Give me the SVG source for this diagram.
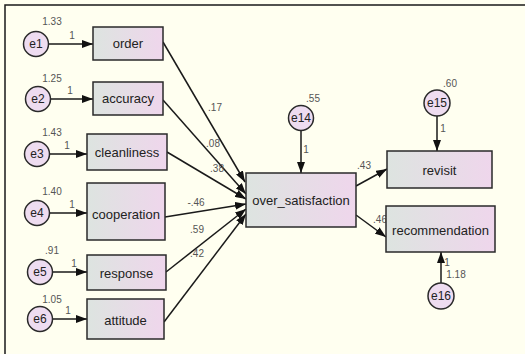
<svg xmlns="http://www.w3.org/2000/svg" width="525" height="354" viewBox="0 0 525 354">
<style>
.box{stroke:#2a2a2a;stroke-width:1.5;fill:url(#g)}
.err{stroke:#2a2a2a;stroke-width:1.5;fill:#eedcf0}
.ln{stroke:#1a1a1a;stroke-width:1.5;fill:none;marker-end:url(#ah)}
.t{font-family:"Liberation Sans",Arial,sans-serif;font-size:13px;fill:#222;text-anchor:middle;dominant-baseline:central}
.c{font-family:"Liberation Sans",Arial,sans-serif;font-size:12px;fill:#222;text-anchor:middle;dominant-baseline:central}
.n{font-family:"Liberation Sans",Arial,sans-serif;font-size:10px;fill:#555;text-anchor:middle}
</style>
<defs>
<linearGradient id="g" x1="0" y1="0" x2="1" y2="0">
<stop offset="0" stop-color="#dde4e0"/>
<stop offset="1" stop-color="#efd6ec"/>
</linearGradient>
<marker id="ah" viewBox="0 0 11 8" refX="11" refY="4" markerWidth="11" markerHeight="8" markerUnits="userSpaceOnUse" orient="auto">
<path d="M0,0 L11,4 L0,8 Z" fill="#111"/>
</marker>
</defs>
<rect x="0" y="0" width="525" height="354" fill="#fffff0"/>
<path d="M5,354 V5 H525" stroke="#1a1a1a" stroke-width="1.5" fill="none"/>
<g id="connectors">
<line class="ln" x1="49" y1="44" x2="93" y2="44"/>
<line class="ln" x1="51" y1="99" x2="93" y2="99"/>
<line class="ln" x1="50" y1="154" x2="87" y2="154"/>
<line class="ln" x1="50" y1="213" x2="87" y2="213"/>
<line class="ln" x1="53" y1="272" x2="87" y2="272"/>
<line class="ln" x1="53" y1="319" x2="87" y2="319"/>
<line class="ln" x1="163" y1="42" x2="245" y2="182"/>
<line class="ln" x1="163" y1="100" x2="246" y2="194"/>
<line class="ln" x1="167" y1="152" x2="246" y2="199"/>
<line class="ln" x1="165" y1="217" x2="246" y2="204"/>
<line class="ln" x1="166" y1="272" x2="246" y2="209"/>
<line class="ln" x1="164" y1="322" x2="246" y2="214"/>
<line class="ln" x1="301" y1="131" x2="301" y2="173"/>
<line class="ln" x1="437" y1="116" x2="437" y2="151"/>
<line class="ln" x1="441" y1="283" x2="441" y2="252"/>
<line class="ln" x1="356" y1="186" x2="387" y2="169"/>
<line class="ln" x1="356" y1="215" x2="386" y2="237"/>
</g>
<g id="labels">
<text class="n" x="72" y="39">1</text><text class="n" x="52" y="25">1.33</text>
<text class="n" x="70" y="94">1</text><text class="n" x="52" y="82">1.25</text>
<text class="n" x="67" y="149">1</text><text class="n" x="52" y="136">1.43</text>
<text class="n" x="72" y="208">1</text><text class="n" x="52" y="195">1.40</text>
<text class="n" x="74" y="267">1</text><text class="n" x="52" y="254">.91</text>
<text class="n" x="68" y="314">1</text><text class="n" x="52" y="303">1.05</text>
<text class="n" x="215" y="111">.17</text>
<text class="n" x="213" y="147">.08</text>
<text class="n" x="217" y="172">.38</text>
<text class="n" x="196" y="206">-.46</text>
<text class="n" x="197" y="233">.59</text>
<text class="n" x="197" y="257">.42</text>
<text class="n" x="313" y="102">.55</text>
<text class="n" x="306" y="153">1</text>
<text class="n" x="450" y="87">.60</text>
<text class="n" x="443" y="132">1</text>
<text class="n" x="447" y="266">1</text>
<text class="n" x="456" y="278">1.18</text>
<text class="n" x="364" y="169">.43</text>
<text class="n" x="380" y="223">.46</text>
</g>
<g id="e1"><circle class="err" cx="36" cy="44" r="12.5"/><text class="c" x="36" y="44">e1</text></g>
<g id="e2"><circle class="err" cx="38" cy="99" r="12.5"/><text class="c" x="38" y="99">e2</text></g>
<g id="e3"><circle class="err" cx="37" cy="154" r="12.5"/><text class="c" x="37" y="154">e3</text></g>
<g id="e4"><circle class="err" cx="37" cy="213" r="12.5"/><text class="c" x="37" y="213">e4</text></g>
<g id="e5"><circle class="err" cx="40" cy="272" r="12.5"/><text class="c" x="40" y="272">e5</text></g>
<g id="e6"><circle class="err" cx="40" cy="319" r="12.5"/><text class="c" x="40" y="319">e6</text></g>
<g id="e14"><circle class="err" cx="301" cy="118" r="12.5"/><text class="c" x="301" y="118">e14</text></g>
<g id="e15"><circle class="err" cx="437" cy="103" r="13"/><text class="c" x="437" y="103">e15</text></g>
<g id="e16"><circle class="err" cx="441" cy="296" r="13"/><text class="c" x="441" y="296">e16</text></g>
<g id="order"><rect class="box" x="93" y="27" width="70" height="33"/><text class="t" x="128" y="43.5">order</text></g>
<g id="accuracy"><rect class="box" x="93" y="82" width="70" height="33"/><text class="t" x="128" y="98.5">accuracy</text></g>
<g id="cleanliness"><rect class="box" x="87" y="134" width="80" height="36"/><text class="t" x="127" y="152">cleanliness</text></g>
<g id="cooperation"><rect class="box" x="87" y="183" width="78" height="57"/><text class="t" x="126" y="214">cooperation</text></g>
<g id="response"><rect class="box" x="87" y="255" width="79" height="35"/><text class="t" x="126.5" y="273">response</text></g>
<g id="attitude"><rect class="box" x="87" y="299" width="77" height="40"/><text class="t" x="125.5" y="320">attitude</text></g>
<g id="over_satisfaction"><rect class="box" x="246" y="173" width="110" height="54"/><text class="t" x="301" y="200">over_satisfaction</text></g>
<g id="revisit"><rect class="box" x="387" y="151" width="105" height="37"/><text class="t" x="439.5" y="170">revisit</text></g>
<g id="recommendation"><rect class="box" x="386" y="206" width="109" height="46"/><text class="t" x="440.5" y="230">recommendation</text></g>
</svg>
